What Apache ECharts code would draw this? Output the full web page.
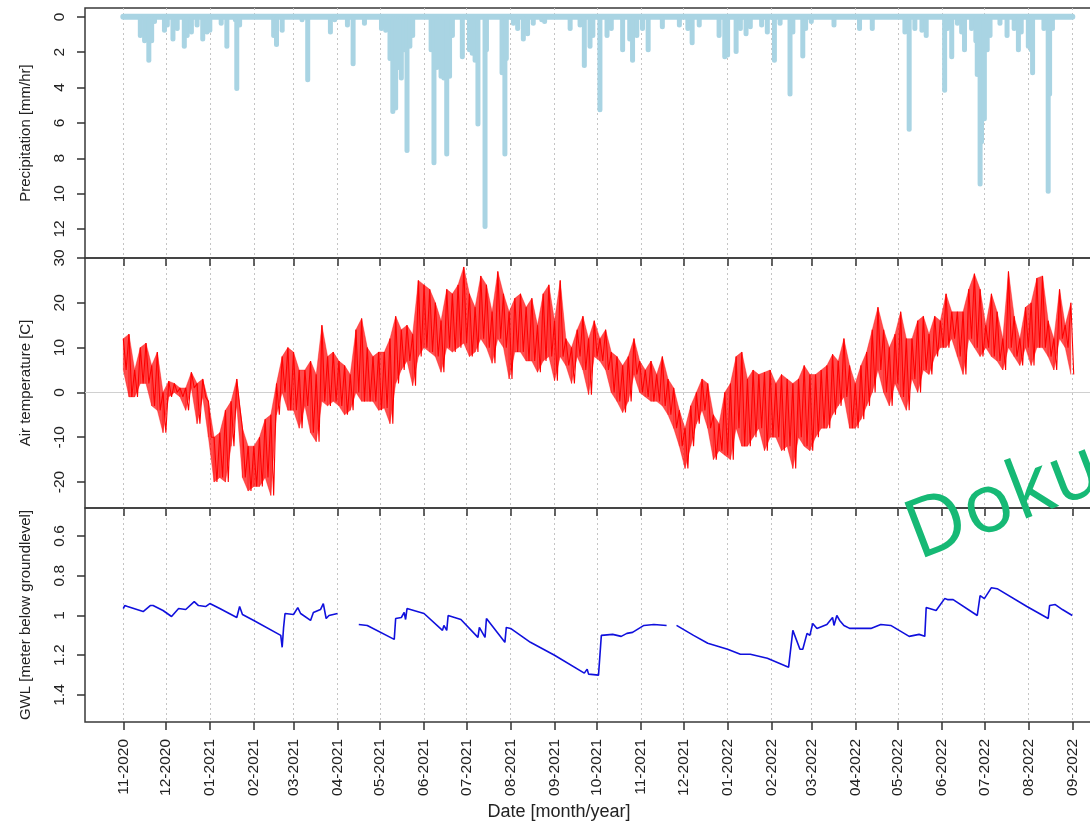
<!DOCTYPE html>
<html>
<head>
<meta charset="utf-8">
<script src="https://cdn.jsdelivr.net/npm/echarts@6/dist/echarts.min.js"></script>
<style>
html,body{margin:0;padding:0;overflow:hidden;background:#fff;}
#c{width:1100px;height:822px;}
</style>
</head>
<body>
<div id="c"></div>
<script>
// ---------------- DATA ----------------
const monthTicks = ['2020-11-01','2020-12-01','2021-01-01','2021-02-01','2021-03-01','2021-04-01','2021-05-01','2021-06-01','2021-07-01','2021-08-01','2021-09-01','2021-10-01','2021-11-01','2021-12-01','2022-01-01','2022-02-01','2022-03-01','2022-04-01','2022-05-01','2022-06-01','2022-07-01','2022-08-01','2022-09-01'];
const precipTicks = [0,2,4,6,8,10,12];
const tempTicks = [-20,-10,0,10,20,30];
const gwlTicks = [0.6,0.8,1,1.2,1.4];
const recordSpan = ['2020-11-01','2022-09-01'];

const precipDates = ['2020-11-13','2020-11-16','2020-11-19','2020-11-21','2020-11-23','2020-11-30','2020-12-02','2020-12-06','2020-12-09','2020-12-14','2020-12-16','2020-12-19','2020-12-23','2020-12-27','2020-12-30','2021-01-01','2021-01-09','2021-01-13','2021-01-19','2021-01-20','2021-01-22','2021-02-15','2021-02-17','2021-02-21','2021-03-07','2021-03-11','2021-03-27','2021-03-30','2021-04-08','2021-04-12','2021-04-20','2021-05-02','2021-05-05','2021-05-08','2021-05-10','2021-05-12','2021-05-14','2021-05-16','2021-05-18','2021-05-20','2021-05-22','2021-05-24','2021-06-06','2021-06-08','2021-06-10','2021-06-13','2021-06-15','2021-06-17','2021-06-19','2021-06-21','2021-06-28','2021-07-03','2021-07-05','2021-07-07','2021-07-09','2021-07-14','2021-07-15','2021-07-26','2021-07-28','2021-07-29','2021-08-03','2021-08-06','2021-08-10','2021-08-13','2021-08-17','2021-08-23','2021-08-25','2021-09-12','2021-09-19','2021-09-22','2021-09-26','2021-09-28','2021-10-03','2021-10-08','2021-10-11','2021-10-19','2021-10-24','2021-10-26','2021-10-29','2021-11-02','2021-11-06','2021-11-16','2021-11-28','2021-12-04','2021-12-07','2021-12-12','2021-12-26','2021-12-30','2022-01-01','2022-01-07','2022-01-10','2022-01-14','2022-01-17','2022-01-25','2022-01-29','2022-02-03','2022-02-07','2022-02-14','2022-02-16','2022-02-23','2022-02-25','2022-03-01','2022-03-17','2022-04-04','2022-04-13','2022-05-06','2022-05-09','2022-05-13','2022-05-18','2022-05-21','2022-06-03','2022-06-05','2022-06-08','2022-06-12','2022-06-15','2022-06-17','2022-06-22','2022-06-25','2022-06-26','2022-06-28','2022-06-29','2022-07-01','2022-07-03','2022-07-05','2022-07-12','2022-07-17','2022-07-22','2022-07-25','2022-07-27','2022-08-01','2022-08-03','2022-08-04','2022-08-12','2022-08-15','2022-08-16','2022-08-18'];
const precipValues = [1.2,1.5,2.6,1.5,0.4,0.9,0.6,1.4,0.8,1.8,1.2,1.0,0.6,1.4,1.0,0.9,0.5,1.8,0.3,4.2,0.6,1.2,1.7,0.9,0.3,3.7,1.0,0.3,0.6,2.8,0.5,0.8,0.9,2.5,5.5,5.3,3.0,3.6,2.0,7.7,1.8,1.2,2.0,8.4,3.0,3.5,3.6,7.9,3.5,1.2,2.4,2.0,2.2,2.6,6.2,12.0,2.0,3.3,7.9,2.5,0.5,0.8,1.4,1.1,0.5,0.3,0.4,0.8,0.6,2.9,1.8,1.2,5.4,1.2,0.8,2.0,1.4,2.6,1.2,0.8,2.0,0.7,0.6,0.8,1.6,0.6,1.2,2.4,2.3,2.1,0.8,1.1,0.7,0.6,1.0,2.6,0.5,4.5,1.0,2.35,0.8,0.4,0.6,0.8,0.8,1.0,6.5,0.8,0.9,1.2,4.3,0.8,2.4,0.5,1.0,2.0,0.8,1.5,3.4,9.6,7.2,5.9,2.0,1.2,0.5,1.2,0.8,2.0,1.0,1.8,2.0,3.3,0.8,10.0,4.5,0.8];

// Air temperature: highs and lows read per 4-day window starting 2020-11-01
const tempStart = '2020-11-01';
const tempStepDays = 4;
const tempMax = [12,13,5,10,11,6,9,0,2.5,2,1,1,4.5,2,3,-2,-10,-9,-4,-2,3,-8,-12,-12,-10,-6,-5,2,8,10,9,5,5,7,4,15,8,9,7,6,4,14,16.5,10,8,9,9,12,17,14,15,13,25,24,23,20,16,23,22,24,28,22,19,26,24,18,27,22,18,21,22,19,21,15,22,24,16,25,12,10,14,17,12,16,12,14,9,8,6,8,12,7,5,7,4,8,3,1,-4,-8,-3,0,3,2,-5,-7,0,2,8,9,3,5,4,4.5,5,2,4,3,2,3,6,4,4,5,6,8.5,7,12,6,2,6,9,14,19,14,10,13,18,12,12,16,17,13,17,16,22,18,18,18,23,26.5,23,15,22,18,12,27,17,12,19,20,25.5,26,16,12,23,15,20];
const tempMin = [5,-1,-1,2,2,-3,-4,-9,-1,0,-1,-4,1,-7,-1,-10,-20,-19,-20,-12,-3,-19,-22,-21,-21,-19,-23,-5,0,-4,-4,-8,-3,-9,-11,-2,-3,-2,-3,-5,-4,0,-2,-2,-2,-4,-3.5,-7,2,5,7,1.5,8,10,9,8,4.5,10,9,10,11,8,9,12,10,6.5,12,10,3,9,9,7,7,4.5,7,8,2.6,8,6,2,8,5,-0.5,8,7,5,0,-2,-4.5,-2,4,0,-1,-2,-2,-3,-5,-8,-12,-17,-12,-7,-4,-8,-15,-13,-14,-15,-8,-12,-12,-10,-8,-13,-10,-10,-13,-12,-17,-10,-12,-13,-10,-8,-8,-5,-3,-1,-8,-8,-6,-3,0,5,0,-3,2,-1,-4,3,0,5,4,8,10,10,12,8,4,12,10,8,10,8,7,5,10,8,6,10,6,10,10,8,5,12,10,4];

// Groundwater level (null = gap in the record)
const gwlDates = ['2020-11-01','2020-11-02','2020-11-04','2020-11-15','2020-11-20','2020-11-22','2020-11-29','2020-12-05','2020-12-10','2020-12-15','2020-12-21','2020-12-24','2020-12-29','2021-01-01','2021-01-08','2021-01-20','2021-01-22','2021-01-24','2021-02-01','2021-02-20','2021-02-21','2021-02-22','2021-02-23','2021-03-01','2021-03-04','2021-03-06','2021-03-13','2021-03-15','2021-03-20','2021-03-22','2021-03-24','2021-03-26','2021-04-01','2021-04-08','2021-04-16','2021-04-22','2021-05-11','2021-05-12','2021-05-16','2021-05-18','2021-05-19','2021-05-20','2021-06-01','2021-06-14','2021-06-15','2021-06-17','2021-06-18','2021-06-27','2021-07-09','2021-07-10','2021-07-14','2021-07-15','2021-07-28','2021-07-29','2021-08-01','2021-08-15','2021-09-01','2021-09-22','2021-09-24','2021-09-25','2021-10-02','2021-10-04','2021-10-12','2021-10-18','2021-10-22','2021-10-26','2021-11-03','2021-11-10','2021-11-19','2021-11-22','2021-11-26','2021-12-08','2021-12-18','2022-01-01','2022-01-10','2022-01-17','2022-01-29','2022-02-13','2022-02-16','2022-02-21','2022-02-23','2022-02-26','2022-02-28','2022-03-02','2022-03-05','2022-03-12','2022-03-16','2022-03-17','2022-03-19','2022-03-21','2022-03-24','2022-03-28','2022-04-12','2022-04-19','2022-04-26','2022-05-09','2022-05-16','2022-05-20','2022-05-21','2022-05-28','2022-06-03','2022-06-05','2022-06-09','2022-06-26','2022-06-28','2022-07-01','2022-07-06','2022-07-10','2022-07-31','2022-08-15','2022-08-16','2022-08-20','2022-08-25','2022-09-01'];
const gwlValues = [0.965,0.95,0.955,0.98,0.95,0.95,0.975,1.005,0.965,0.97,0.93,0.95,0.955,0.94,0.965,1.01,0.955,0.995,1.025,1.10,1.16,1.06,0.99,0.995,0.96,0.99,1.025,0.985,0.97,0.94,1.015,1.0,0.99,null,1.045,1.05,1.12,1.015,1.01,0.985,1.02,0.965,0.99,1.075,1.05,1.075,1.0,1.02,1.11,1.06,1.11,1.015,1.135,1.06,1.065,1.135,1.2,1.29,1.27,1.295,1.30,1.10,1.095,1.105,1.09,1.085,1.05,1.045,1.05,null,1.05,1.10,1.14,1.17,1.195,1.195,1.215,1.26,1.075,1.17,1.17,1.09,1.10,1.04,1.065,1.045,1.01,1.05,1.0,1.025,1.05,1.065,1.065,1.045,1.05,1.105,1.095,1.105,0.96,0.975,0.915,0.92,0.92,1.0,0.9,0.915,0.86,0.865,0.955,1.015,0.95,0.945,0.97,1.0];

// ---------------- BUILD ----------------
const DAY = 864e5;
function ts(s){const p=s.split('-').map(Number);return new Date(p[0],p[1]-1,p[2]).getTime();}
const tickTs = monthTicks.map(ts);
const xMin = ts('2020-11-01') - 27.0*DAY;
const xMax = xMin + 712.0*DAY;

const precipData = precipDates.map((d,i)=>[ts(d), precipValues[i]]);
const baseData = recordSpan.map(d=>[ts(d),0]);
const t0 = ts(tempStart);
const tempData = [];
const bandData = [];
tempMax.forEach((v,i)=>{
  const a = t0 + i*tempStepDays*DAY, b = t0 + (i*tempStepDays + tempStepDays/2)*DAY;
  tempData.push([a, v]);
  tempData.push([b, tempMin[i]]);
  if (i < tempMax.length-1) {
    bandData.push([a, tempMin[i], v, a + tempStepDays*DAY, tempMin[i+1], tempMax[i+1]]);
  }
});
const gwlData = gwlDates.map((d,i)=>[ts(d), gwlValues[i]===null ? '-' : gwlValues[i]]);

const FONT = 'Liberation Sans';
const TXT = '#222';
function pad(n){return (n<10?'0':'')+n;}
function fmtMonth(v){const d=new Date(v);return pad(d.getMonth()+1)+'-'+d.getFullYear();}

function xAxis(i, labels){
  return {
    type:'value', gridIndex:i, min:xMin, max:xMax, scale:true, position:'bottom',
    axisLine:{show:false, onZero:false},
    axisTick:{show:true, inside:false, length:8, customValues:tickTs, lineStyle:{color:'#333', width:1.5}},
    axisLabel:{show:labels, customValues:tickTs, rotate:90, margin:17, fontSize:15.5, color:TXT, fontFamily:FONT, formatter:fmtMonth},
    splitLine:{show:true, lineStyle:{color:'#c4c4c4', type:[2,3], width:1}},
    minorTick:{show:false}
  };
}
function yAxis(i, opt){
  return Object.assign({
    type:'value', gridIndex:i, position:'left',
    axisLine:{show:false, onZero:false},
    axisTick:{show:true, inside:false, length:8, customValues:opt.ticks, lineStyle:{color:'#333', width:1.5}},
    axisLabel:{customValues:opt.ticks, rotate:90, margin:17, fontSize:15.5, color:TXT, fontFamily:FONT},
    splitLine:{show:false},
    nameLocation:'middle', nameGap:52,
    nameTextStyle:{fontSize:15, color:TXT, fontFamily:FONT}
  }, opt.extra);
}
const gridBase = {show:true, left:85, right:5, borderColor:'#3a3a3a', borderWidth:1.5, backgroundColor:'transparent'};

function renderBand(params, api){
  const p1 = api.coord([api.value(0), api.value(2)]);
  const p2 = api.coord([api.value(3), api.value(5)]);
  const p3 = api.coord([api.value(3), api.value(4)]);
  const p4 = api.coord([api.value(0), api.value(1)]);
  return {type:'polygon', shape:{points:[p1,p2,p3,p4]},
    style:{fill:'rgba(255,0,0,0.7)', stroke:'rgba(255,0,0,0.7)', lineWidth:0.5}};
}

const option = {
  animation:false,
  backgroundColor:'#fff',
  grid:[
    Object.assign({top:8, height:250}, gridBase),
    Object.assign({top:258, height:250}, gridBase),
    Object.assign({top:508, height:214}, gridBase)
  ],
  xAxis:[xAxis(0,false), xAxis(1,false), xAxis(2,true)],
  yAxis:[
    yAxis(0,{ticks:precipTicks, extra:{inverse:true, min:-0.5, max:13.64, name:'Precipitation [mm/hr]'}}),
    yAxis(1,{ticks:tempTicks, extra:{min:-25.8, max:30, name:'Air temperature [C]'}}),
    yAxis(2,{ticks:gwlTicks, extra:{inverse:true, min:0.459, max:1.536, name:'GWL [meter below groundlevel]'}})
  ],
  series:[
    {type:'line', xAxisIndex:0, yAxisIndex:0, data:baseData, symbol:'none', silent:true,
      lineStyle:{color:'#a9d4e3', width:6, cap:'round'}, z:2},
    {type:'bar', xAxisIndex:0, yAxisIndex:0, data:precipData, barWidth:5, barGap:'-100%',
      itemStyle:{color:'#a9d4e3', borderRadius:2.5}, z:3},
    {type:'line', xAxisIndex:1, yAxisIndex:1, data:[], symbol:'none',
      markLine:{silent:true, symbol:'none', z:1, label:{show:false},
        lineStyle:{color:'#d0d0d0', type:'solid', width:1}, data:[{yAxis:0}]}, z:1},
    {type:'custom', xAxisIndex:1, yAxisIndex:1, data:bandData, renderItem:renderBand, silent:true,
      encode:{x:[0,3], y:[1,2,4,5]}, clip:true, z:2},
    {type:'line', xAxisIndex:1, yAxisIndex:1, data:tempData, symbol:'none',
      lineStyle:{color:'#ff0000', width:1.1}, z:4},
    {type:'line', xAxisIndex:2, yAxisIndex:2, data:gwlData, symbol:'none', connectNulls:false,
      lineStyle:{color:'#1010dd', width:1.6}, z:4}
  ],
  graphic:[
    {type:'text', x:559, y:812, z:100,
      style:{text:'Date [month/year]', font:'18px "Liberation Sans"', fill:TXT, align:'center', verticalAlign:'middle'}},
    {type:'text', x:895, y:500, rotation:21*Math.PI/180, z:100,
      style:{text:'Doku', font:'82px "Open Sans"', fill:'#16b975', align:'left', verticalAlign:'top'}}
  ]
};
const chart = echarts.init(document.getElementById('c'), null, {renderer:'canvas'});
chart.setOption(option);
</script>
</body>
</html>
